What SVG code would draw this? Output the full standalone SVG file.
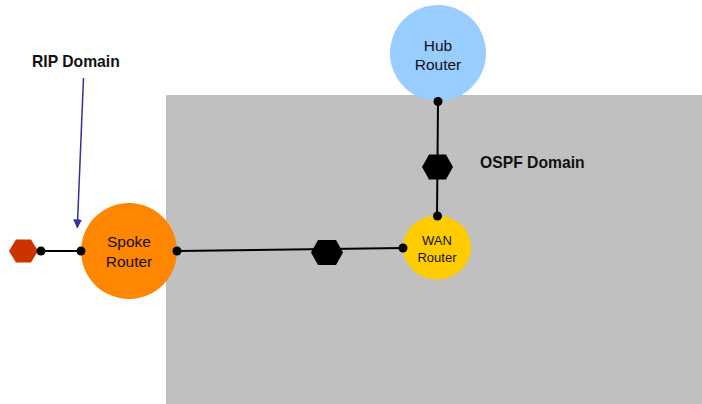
<svg xmlns="http://www.w3.org/2000/svg" width="702" height="404" viewBox="0 0 702 404">
  <defs>
    <style>
      .lbl { font-family: "Liberation Sans", Arial, sans-serif; fill: #111; text-anchor: middle; }
      .dom { font-family: "Liberation Sans", Arial, sans-serif; font-weight: bold; font-size: 15.7px; fill: #111; }
      .link { stroke: #000; stroke-width: 2; fill: none; }
      .dot { fill: #000; }
      .hex { fill: #000; }
    </style>
    <marker id="arrow" viewBox="0 0 10 10" refX="9" refY="5" markerWidth="9" markerHeight="9" orient="auto" markerUnits="userSpaceOnUse">
      <path d="M0,0 L10,5 L0,10 z" fill="#333399"/>
    </marker>
  </defs>

  <!-- OSPF area backdrop -->
  <rect id="ospf-area" x="166" y="95" width="536" height="309" fill="#C0C0C0"/>

  <!-- domain labels -->
  <g id="rip-label">
    <text class="dom" x="32" y="67">RIP Domain</text>
    <line x1="83.5" y1="78" x2="77.3" y2="227.5" stroke="#333399" stroke-width="1.5" marker-end="url(#arrow)"/>
  </g>
  <g id="ospf-label">
    <text class="dom" x="480" y="168">OSPF Domain</text>
  </g>

  <!-- links -->
  <g id="connectors">
    <line class="link" x1="41" y1="251" x2="81" y2="251"/>
    <line class="link" x1="177" y1="251" x2="403" y2="248"/>
    <line class="link" x1="438" y1="102" x2="437" y2="216"/>
  </g>

  <!-- external network on the RIP side -->
  <g id="rip-net">
    <polygon points="9,251 16,239.5 31,239.5 38,251 31,262.5 16,262.5" fill="#CC3300"/>
  </g>

  <g id="spoke-router">
    <circle cx="129" cy="251" r="48" fill="#FF8600"/>
    <text class="lbl" x="129" y="247" font-size="15.5">Spoke</text>
    <text class="lbl" x="129" y="266.5" font-size="15.5">Router</text>
  </g>

  <g id="hub-router">
    <circle cx="438" cy="53" r="48" fill="#99CCFF"/>
    <text class="lbl" x="438" y="51" font-size="15.5">Hub</text>
    <text class="lbl" x="438" y="70" font-size="15.5">Router</text>
  </g>

  <g id="wan-router">
    <ellipse cx="437" cy="247.5" rx="34" ry="32" fill="#FFCC00"/>
    <text class="lbl" x="437" y="245" font-size="13">WAN</text>
    <text class="lbl" x="437" y="261.5" font-size="13">Router</text>
  </g>

  <!-- transit networks -->
  <g id="net-spoke-wan">
    <polygon class="hex" points="311,252.5 318,240 336,240 343,252.5 336,265 318,265"/>
  </g>
  <g id="net-hub-wan">
    <polygon class="hex" points="422,167 429,154.5 446,154.5 453,167 446,179.5 429,179.5"/>
  </g>

  <!-- interface dots -->
  <g id="ports">
    <circle class="dot" cx="41" cy="251" r="4.5"/>
    <circle class="dot" cx="81" cy="251" r="4.5"/>
    <circle class="dot" cx="177" cy="251" r="4.5"/>
    <circle class="dot" cx="403" cy="248" r="4.5"/>
    <circle class="dot" cx="437.5" cy="216" r="4.5"/>
    <circle class="dot" cx="438" cy="101.5" r="4.5"/>
  </g>
</svg>
